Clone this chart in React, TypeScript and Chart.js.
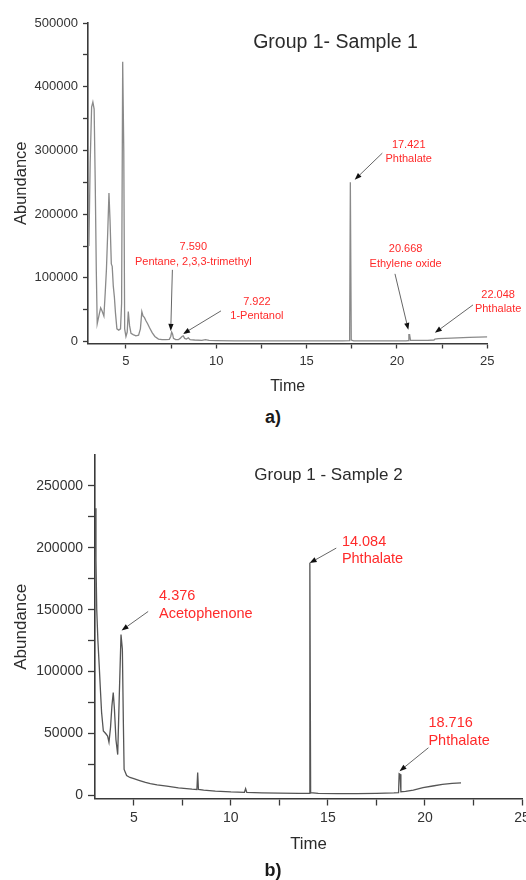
import React, { useEffect, useRef } from "react";
import { Chart, registerables } from "chart.js";

Chart.register(...registerables);

const FONT = '"Liberation Sans", Arial, Helvetica, sans-serif';

// ---------- Data: Group 1 - Sample 1 ----------
const timeA = [
  2.95, 3.02, 3.1, 3.17, 3.24, 3.3, 3.36, 3.41, 3.5, 3.6, 3.68, 3.78, 3.85, 3.92, 3.99, 4.06, 4.12,
  4.19, 4.24, 4.3, 4.36, 4.42, 4.5, 4.6, 4.7, 4.76, 4.82, 4.88, 4.93, 5.0, 5.07, 5.13, 5.2, 5.28,
  5.4, 5.55, 5.7, 5.8, 5.88, 5.95, 6.02, 6.1, 6.2, 6.3, 6.45, 6.6, 6.8, 7.0, 7.2, 7.4, 7.48, 7.53,
  7.58, 7.63, 7.75, 7.9, 8.0, 8.1, 8.17, 8.25, 8.35, 8.45, 8.55, 8.8, 9.2, 9.4, 9.6, 10, 11, 12,
  13, 14, 15, 16, 17, 17.38, 17.42, 17.47, 17.6, 18.5, 19.5, 20.5, 20.62, 20.66, 20.7, 20.75,
  21.2, 21.7, 22.05, 22.1, 22.3, 23, 24, 25,
];
const abundanceA = [
  150000, 280000, 368000, 376000, 365000, 250000, 110000, 28000, 40000, 53000, 48000, 40000,
  75000, 113000, 170000, 233000, 190000, 122000, 118000, 87000, 70000, 45000, 20000, 18000, 20000,
  60000, 439000, 300000, 20000, 8000, 15000, 47000, 25000, 13000, 11000, 9000, 10000, 20000,
  47000, 40000, 38000, 33000, 28000, 22000, 14000, 8000, 4000, 3000, 3000, 3500, 8000, 15000,
  12000, 5000, 3000, 3000, 5000, 8000, 9000, 5000, 4000, 6000, 3000, 2500, 2000, 3000, 1800,
  1500, 1200, 1000, 1000, 1000, 1000, 1000, 1200, 1500, 250000, 2500, 1200, 1000, 1000, 1200,
  1500, 11000, 11000, 1800, 1800, 2000, 2500, 4000, 4500, 5500, 6500, 7500,
];

// ---------- Data: Group 1 - Sample 2 ----------
const timeB = [
  3.0, 3.05, 3.09, 3.15, 3.22, 3.28, 3.34, 3.43, 3.55, 3.65, 3.72, 3.8, 3.87, 3.94, 4.0, 4.08,
  4.17, 4.25, 4.34, 4.41, 4.46, 4.5, 4.63, 4.8, 5.0, 5.3, 5.6, 5.85, 6.2, 6.7, 7.3, 8.0, 8.25,
  8.29, 8.33, 8.6, 9.2, 10.0, 10.7, 10.76, 10.82, 11.6, 12.5, 13.5, 14.0, 14.04, 14.07, 14.11,
  14.5, 15.5, 16.5, 17.5, 18.4, 18.64, 18.67, 18.72, 18.76, 19.0, 19.4, 19.9, 20.4, 20.9, 21.4,
  21.86,
];
const abundanceB = [
  232000, 190000, 150000, 125000, 104000, 85000, 67000, 52000, 50000, 48000, 43000, 55000, 72000,
  83000, 70000, 45000, 33000, 80000, 130000, 118000, 60000, 21000, 16000, 14500, 13500, 12000,
  10500, 9500, 8500, 7500, 6000, 5000, 4800, 18500, 4800, 4300, 3500, 2800, 2500, 5400, 2400,
  2000, 1800, 1600, 1600, 1600, 188000, 2200, 1600, 1500, 1500, 1600, 2000, 2200, 17500, 17000,
  3000, 3300, 4300, 6200, 7600, 8900, 9700, 10200,
];

// ---------- Axis ticks ----------
const xMajorTicks = [5, 10, 15, 20, 25];
const xMinorTicks = [7.5, 12.5, 17.5, 22.5];
const yMajorTicksA = [0, 100000, 200000, 300000, 400000, 500000];
const yMinorTicksA = [50000, 150000, 250000, 350000, 450000];
const yMajorTicksB = [0, 50000, 100000, 150000, 200000, 250000];
const yMinorTicksB = [25000, 75000, 125000, 175000, 225000];

// ---------- Peak labels ----------
const peakLabelsA = [
  ["7.590", "Pentane, 2,3,3-trimethyl"],
  ["7.922", "1-Pentanol"],
  ["17.421", "Phthalate"],
  ["20.668", "Ethylene oxide"],
  ["22.048", "Phthalate"],
];
const peakLabelsB = [
  ["4.376", "Acetophenone"],
  ["14.084", "Phthalate"],
  ["18.716", "Phthalate"],
];

// annotation layout in data units: text anchor, arrow start, arrow tip
const noteLayoutA = [
  { text: [8.73, 148200], from: [7.57, 112600], to: [7.48, 16800] },
  { text: [12.25, 62800], from: [10.26, 48200], to: [8.16, 12100] },
  { text: [20.65, 308800], from: [19.19, 295800], to: [17.66, 253900] },
  { text: [20.48, 145000], from: [19.89, 106300], to: [20.63, 18400] },
  { text: [25.6, 73300], from: [24.21, 57600], to: [22.1, 13700] },
];
const noteLayoutB = [
  { text: [6.3, 160700], from: [5.74, 148600], to: [4.37, 133300] },
  { text: [15.72, 205100], from: [15.43, 199800], to: [14.06, 187700] },
  { text: [20.18, 58600], from: [20.18, 38500], to: [18.69, 19600] },
];

const notesPlugin = {
  id: "peakNotes",
  afterDatasetsDraw(chart: any, _args: any, opts: any) {
    const { ctx } = chart;
    const x = chart.scales.x;
    const y = chart.scales.y;
    ctx.save();
    // title
    ctx.fillStyle = "#2b2b2b";
    ctx.font = `${opts.titleSize}px ${FONT}`;
    ctx.textAlign = "center";
    ctx.textBaseline = "middle";
    ctx.fillText(opts.title, x.getPixelForValue(opts.titlePos[0]), y.getPixelForValue(opts.titlePos[1]));

    (opts.labels as string[][]).forEach((lines, i) => {
      const lay = opts.layout[i];
      const tx = x.getPixelForValue(lay.text[0]);
      const ty = y.getPixelForValue(lay.text[1]);
      ctx.fillStyle = "#ff2a2a";
      ctx.font = `${opts.noteSize}px ${FONT}`;
      ctx.textAlign = opts.align;
      ctx.textBaseline = "middle";
      lines.forEach((s, k) => ctx.fillText(s, tx, ty + k * opts.lineGap));

      const x0 = x.getPixelForValue(lay.from[0]);
      const y0 = y.getPixelForValue(lay.from[1]);
      const x1 = x.getPixelForValue(lay.to[0]);
      const y1 = y.getPixelForValue(lay.to[1]);
      const ang = Math.atan2(y1 - y0, x1 - x0);
      const hl = 7;
      const hw = 2.6;
      const bx = x1 - hl * Math.cos(ang);
      const by = y1 - hl * Math.sin(ang);
      ctx.strokeStyle = "#666";
      ctx.lineWidth = 1;
      ctx.beginPath();
      ctx.moveTo(x0, y0);
      ctx.lineTo(bx, by);
      ctx.stroke();
      ctx.fillStyle = "#111";
      ctx.beginPath();
      ctx.moveTo(x1, y1);
      ctx.lineTo(bx + hw * Math.sin(ang), by - hw * Math.cos(ang));
      ctx.lineTo(bx - hw * Math.sin(ang), by + hw * Math.cos(ang));
      ctx.closePath();
      ctx.fill();
    });
    ctx.restore();
  },
};

type Spec = {
  times: number[];
  values: number[];
  lineColor: string;
  xMin: number;
  xMax: number;
  yMin: number;
  yMax: number;
  yMajor: number[];
  yMinor: number[];
  tickSize: number;
  tickLen: number;
  xTickPad: number;
  yTickPad: number;
  yAxisWidth: number;
  xAxisHeight: number;
  padding: { top: number; right: number; left: number; bottom: number };
  yTitleSize: number;
  yTitlePad: number;
  xTitleSize: number;
  xTitlePad: number;
  notes: any;
};

function buildConfig(s: Spec): any {
  const xAll = [...xMajorTicks, ...xMinorTicks].sort((a, b) => a - b);
  const yAll = [...s.yMajor, ...s.yMinor].sort((a, b) => a - b);
  const axisColor = "#3a3a3a";
  return {
    type: "line",
    data: {
      datasets: [
        {
          data: s.times.map((t, i) => ({ x: t, y: s.values[i] })),
          borderColor: s.lineColor,
          borderWidth: 1.3,
          pointRadius: 0,
          tension: 0,
          fill: false,
        },
      ],
    },
    options: {
      animation: false,
      responsive: false,
      events: [],
      layout: { padding: s.padding },
      plugins: {
        legend: { display: false },
        tooltip: { enabled: false },
        peakNotes: s.notes,
      },
      scales: {
        x: {
          type: "linear",
          min: s.xMin,
          max: s.xMax,
          afterBuildTicks: (sc: any) => {
            sc.ticks = xAll.map((v) => ({ value: v }));
          },
          afterFit: (sc: any) => {
            sc.height = s.xAxisHeight;
            sc.paddingLeft = 0;
            sc.paddingRight = 0;
          },
          ticks: {
            autoSkip: false,
            maxRotation: 0,
            minRotation: 0,
            padding: s.xTickPad,
            color: "#333",
            font: { family: FONT, size: s.tickSize },
            callback: (v: number) => (xMajorTicks.includes(v) ? String(v) : ""),
          },
          grid: {
            drawOnChartArea: false,
            drawTicks: true,
            tickLength: s.tickLen,
            tickColor: axisColor,
            tickWidth: 1.3,
          },
          border: { display: true, color: axisColor, width: 1.6 },
          title: {
            display: true,
            text: "Time",
            color: "#2b2b2b",
            font: { family: FONT, size: s.xTitleSize },
            padding: { top: 0, bottom: s.xTitlePad },
          },
        },
        y: {
          type: "linear",
          min: s.yMin,
          max: s.yMax,
          afterBuildTicks: (sc: any) => {
            sc.ticks = yAll.map((v) => ({ value: v }));
          },
          afterFit: (sc: any) => {
            sc.width = s.yAxisWidth;
            sc.paddingTop = 0;
            sc.paddingBottom = 0;
          },
          ticks: {
            autoSkip: false,
            padding: s.yTickPad,
            color: "#333",
            font: { family: FONT, size: s.tickSize },
            callback: (v: number) => (s.yMajor.includes(v) ? String(v) : ""),
          },
          grid: {
            drawOnChartArea: false,
            drawTicks: true,
            tickLength: s.tickLen,
            tickColor: axisColor,
            tickWidth: 1.3,
          },
          border: { display: true, color: axisColor, width: 1.6 },
          title: {
            display: true,
            text: "Abundance",
            color: "#2b2b2b",
            font: { family: FONT, size: s.yTitleSize },
            padding: { top: s.yTitlePad, bottom: 0 },
          },
        },
      },
    },
    plugins: [notesPlugin],
  };
}

const specA: Spec = {
  times: timeA,
  values: abundanceA,
  lineColor: "#8a8a8a",
  xMin: 2.9,
  xMax: 25,
  yMin: -3000,
  yMax: 500000,
  yMajor: yMajorTicksA,
  yMinor: yMinorTicksA,
  tickSize: 13,
  tickLen: 5,
  xTickPad: 5,
  yTickPad: 5,
  yAxisWidth: 88,
  xAxisHeight: 56.5,
  padding: { top: 23, right: 38.7, left: 0, bottom: 0 },
  yTitleSize: 16.5,
  yTitlePad: 11.8,
  xTitleSize: 16,
  xTitlePad: 3.7,
  notes: {
    title: "Group 1- Sample 1",
    titleSize: 19.5,
    titlePos: [16.6, 468500],
    labels: peakLabelsA,
    layout: noteLayoutA,
    noteSize: 11,
    lineGap: 14.4,
    align: "center",
  },
};

const specB: Spec = {
  times: timeB,
  values: abundanceB,
  lineColor: "#555555",
  xMin: 3,
  xMax: 25,
  yMin: -2500,
  yMax: 275000,
  yMajor: yMajorTicksB,
  yMinor: yMinorTicksB,
  tickSize: 14,
  tickLen: 7,
  xTickPad: 4,
  yTickPad: 5,
  yAxisWidth: 95,
  xAxisHeight: 81.5,
  padding: { top: 25, right: 4, left: 0, bottom: 0 },
  yTitleSize: 17,
  yTitlePad: 11.5,
  xTitleSize: 16.8,
  xTitlePad: 25.9,
  notes: {
    title: "Group 1 - Sample 2",
    titleSize: 17,
    titlePos: [15.03, 258900],
    labels: peakLabelsB,
    layout: noteLayoutB,
    noteSize: 14.5,
    lineGap: 17.8,
    align: "left",
  },
};

function ChromChart({ spec, top, width, height }: { spec: Spec; top: number; width: number; height: number }) {
  const ref = useRef<HTMLCanvasElement | null>(null);
  useEffect(() => {
    if (!ref.current) return;
    const chart = new Chart(ref.current, buildConfig(spec));
    return () => chart.destroy();
  }, [spec]);
  return (
    <canvas
      ref={ref}
      width={width}
      height={height}
      style={{ position: "absolute", left: 0, top, width, height }}
    />
  );
}

const captionStyle = (top: number): React.CSSProperties => ({
  position: "absolute",
  left: 0,
  width: 546,
  top,
  height: 20,
  lineHeight: "20px",
  textAlign: "center",
  fontFamily: FONT,
  fontWeight: "bold",
  fontSize: 18,
  color: "#1a1a1a",
});

export default function App() {
  return (
    <div
      style={{
        position: "absolute",
        left: 0,
        top: 0,
        width: 526,
        height: 880,
        background: "#ffffff",
        overflow: "hidden",
      }}
    >
      <ChromChart spec={specA} top={0} width={526} height={400} />
      <div style={captionStyle(407)}>a)</div>
      <ChromChart spec={specB} top={430} width={526} height={450} />
      <div style={captionStyle(860)}>b)</div>
    </div>
  );
}
